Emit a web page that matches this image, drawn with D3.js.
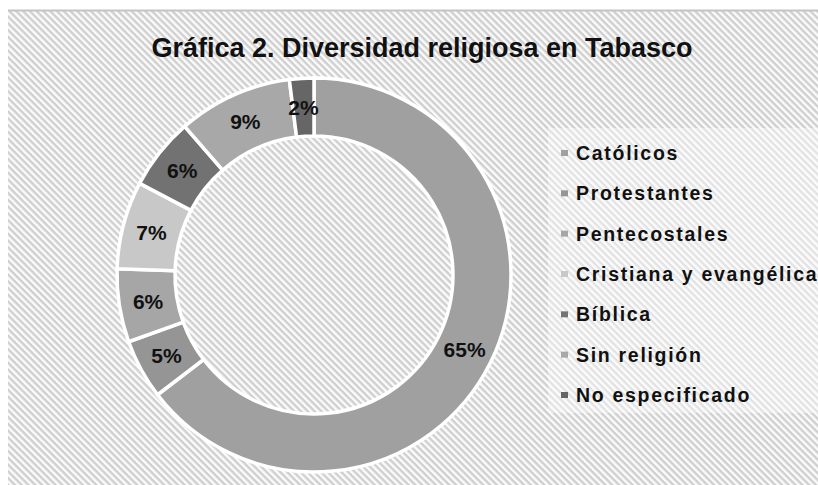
<!DOCTYPE html>
<html>
<head>
<meta charset="utf-8">
<script src="https://cdn.jsdelivr.net/npm/d3@7"></script>
<style>
  body { margin: 0; background: #fff; }
  text { font-family: "Liberation Sans", Arial, sans-serif; font-weight: bold; fill: #111; }
</style>
</head>
<body>
<div id="chart"></div>
<script>
// data
var categories = ["Católicos", "Protestantes", "Pentecostales", "Cristiana y evangélica", "Bíblica", "Sin religión", "No especificado"];
var values = [64.6, 4.9, 6.0, 7.2, 5.9, 9.4, 2.0];
var colors = ["#a0a0a0", "#959595", "#a6a6a6", "#c8c8c8", "#727272", "#a8a8a8", "#666666"];
var title = "Gráfica 2. Diversidad religiosa en Tabasco";

var width = 818, height = 485;
var cx = 314, cy = 275, rOuter = 197, rInner = 139;

var svg = d3.select("#chart").append("svg")
    .attr("width", width)
    .attr("height", height);

// striped background
var defs = svg.append("defs");
var pat = defs.append("pattern")
    .attr("id", "stripes")
    .attr("patternUnits", "userSpaceOnUse")
    .attr("width", 10).attr("height", 4.8)
    .attr("patternTransform", "rotate(45)");
pat.append("rect").attr("width", 10).attr("height", 4.8).attr("fill", "#fbfbfb");
pat.append("rect").attr("width", 10).attr("height", 2.4).attr("fill", "#cfcfcf");

svg.append("rect")
    .attr("x", 8).attr("y", 10)
    .attr("width", width - 8).attr("height", height - 10)
    .attr("fill", "url(#stripes)");
svg.append("line")
    .attr("x1", 8).attr("x2", width)
    .attr("y1", 10.5).attr("y2", 10.5)
    .attr("stroke", "#c4c4c4").attr("stroke-width", 2);

// title
svg.append("text")
    .attr("x", 422).attr("y", 57)
    .attr("text-anchor", "middle")
    .style("font-size", "27px")
    .text(title);

// donut
var pie = d3.pie().sort(null).value(d => d);
var arcs = pie(values);
var arc = d3.arc().innerRadius(rInner).outerRadius(rOuter);
var labelArc = d3.arc().innerRadius((rInner + rOuter) / 2).outerRadius((rInner + rOuter) / 2);

var g = svg.append("g").attr("transform", "translate(" + cx + "," + cy + ")");

g.selectAll("path")
    .data(arcs)
    .join("path")
    .attr("d", arc)
    .attr("fill", (d, i) => colors[i])
    .attr("stroke", "#fff")
    .attr("stroke-width", 3.5);

g.selectAll("text.lbl")
    .data(arcs)
    .join("text")
    .attr("class", "lbl")
    .attr("transform", d => "translate(" + labelArc.centroid(d) + ")")
    .attr("text-anchor", "middle")
    .attr("dy", "0.36em")
    .style("font-size", "21px")
    .text(d => Math.round(d.data) + "%");

// legend
svg.append("rect")
    .attr("x", 548).attr("y", 128)
    .attr("width", width - 548).attr("height", 285)
    .attr("fill", "#fff").attr("opacity", 0.4);

var ly = d3.scalePoint().domain(categories).range([153, 395]);

var leg = svg.selectAll("g.leg")
    .data(categories)
    .join("g")
    .attr("class", "leg")
    .attr("transform", d => "translate(0," + ly(d) + ")");

leg.append("rect")
    .attr("x", 561).attr("y", -3)
    .attr("width", 7).attr("height", 6)
    .attr("fill", (d, i) => colors[i]);

leg.append("text")
    .attr("x", 576).attr("y", 7)
    .style("font-size", "19.5px")
    .style("letter-spacing", "1.7px")
    .text(d => d);
</script>
</body>
</html>
